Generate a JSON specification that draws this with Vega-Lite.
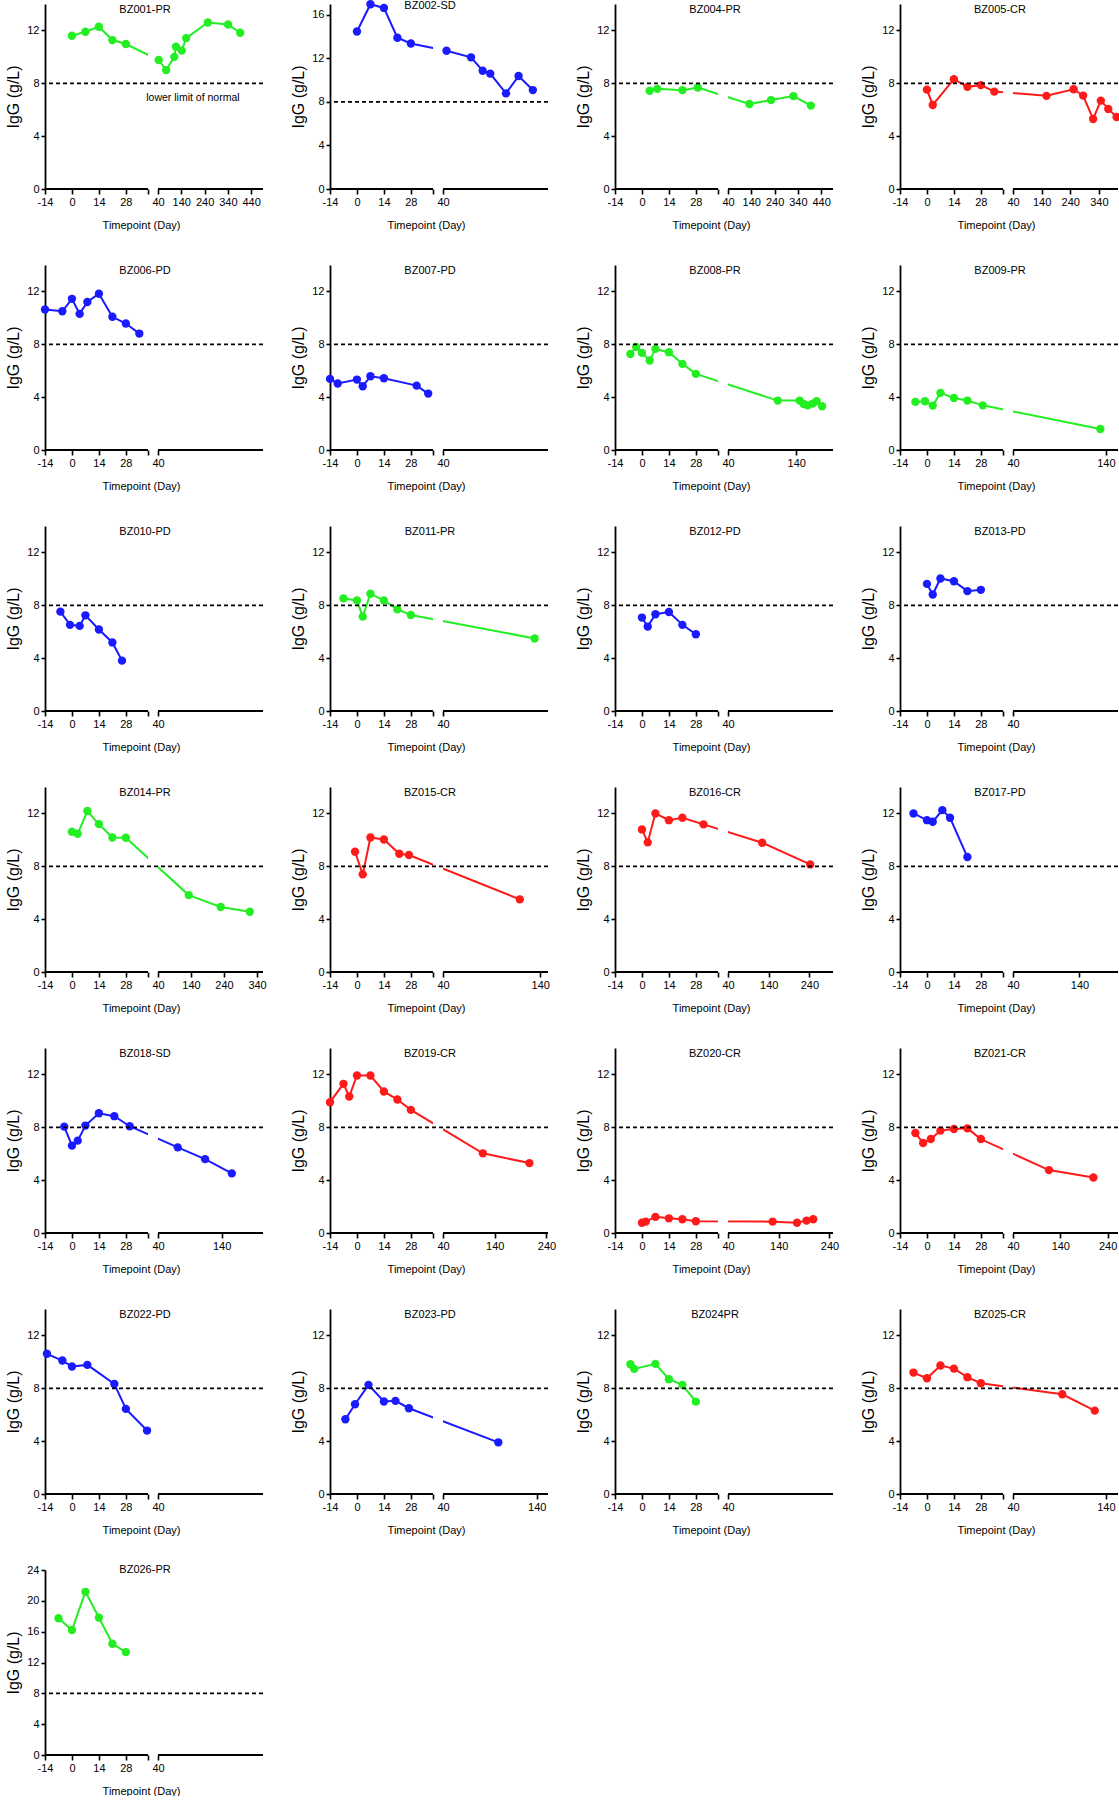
{
"$schema":"https://vega.github.io/schema/vega-lite/v6.json",
"padding":{"left":5,"top":0,"right":0,"bottom":0},
"columns":4,
"spacing":{"row":76,"column":67},
"bounds":"flush",
"resolve":{"scale":{"x":"independent","y":"independent"}},
"datasets":{"igg":[
{"id":"BZ001","resp":"PR","day":0,"igg":11.6},{"id":"BZ001","resp":"PR","day":7,"igg":11.9},{"id":"BZ001","resp":"PR","day":14,"igg":12.28},{"id":"BZ001","resp":"PR","day":21,"igg":11.27},{"id":"BZ001","resp":"PR","day":28,"igg":10.97},{"id":"BZ001","resp":"PR","day":43,"igg":9.76},{"id":"BZ001","resp":"PR","day":75,"igg":9.0},{"id":"BZ001","resp":"PR","day":110,"igg":10.0},{"id":"BZ001","resp":"PR","day":117,"igg":10.77},{"id":"BZ001","resp":"PR","day":142,"igg":10.47},{"id":"BZ001","resp":"PR","day":161,"igg":11.42},{"id":"BZ001","resp":"PR","day":254,"igg":12.6},{"id":"BZ001","resp":"PR","day":341,"igg":12.45},{"id":"BZ001","resp":"PR","day":393,"igg":11.82},
{"id":"BZ002","resp":"SD","day":0,"igg":14.47},{"id":"BZ002","resp":"SD","day":7,"igg":16.98},{"id":"BZ002","resp":"SD","day":14,"igg":16.64},{"id":"BZ002","resp":"SD","day":21,"igg":13.9},{"id":"BZ002","resp":"SD","day":28,"igg":13.37},{"id":"BZ002","resp":"SD","day":52,"igg":12.7},{"id":"BZ002","resp":"SD","day":136,"igg":12.1},{"id":"BZ002","resp":"SD","day":176,"igg":10.87},{"id":"BZ002","resp":"SD","day":202,"igg":10.6},{"id":"BZ002","resp":"SD","day":256,"igg":8.79},{"id":"BZ002","resp":"SD","day":299,"igg":10.38},{"id":"BZ002","resp":"SD","day":348,"igg":9.09},
{"id":"BZ004","resp":"PR","day":4,"igg":7.43},{"id":"BZ004","resp":"PR","day":8,"igg":7.58},{"id":"BZ004","resp":"PR","day":21,"igg":7.48},{"id":"BZ004","resp":"PR","day":29,"igg":7.68},{"id":"BZ004","resp":"PR","day":132,"igg":6.43},{"id":"BZ004","resp":"PR","day":225,"igg":6.73},{"id":"BZ004","resp":"PR","day":321,"igg":7.03},{"id":"BZ004","resp":"PR","day":396,"igg":6.31},
{"id":"BZ005","resp":"CR","day":0,"igg":7.52},{"id":"BZ005","resp":"CR","day":3,"igg":6.36},{"id":"BZ005","resp":"CR","day":14,"igg":8.31},{"id":"BZ005","resp":"CR","day":21,"igg":7.73},{"id":"BZ005","resp":"CR","day":28,"igg":7.86},{"id":"BZ005","resp":"CR","day":35,"igg":7.37},{"id":"BZ005","resp":"CR","day":157,"igg":7.05},{"id":"BZ005","resp":"CR","day":252,"igg":7.55},{"id":"BZ005","resp":"CR","day":285,"igg":7.07},{"id":"BZ005","resp":"CR","day":320,"igg":5.3},{"id":"BZ005","resp":"CR","day":347,"igg":6.69},{"id":"BZ005","resp":"CR","day":373,"igg":6.06},{"id":"BZ005","resp":"CR","day":402,"igg":5.45},
{"id":"BZ006","resp":"PD","day":-14,"igg":10.63},{"id":"BZ006","resp":"PD","day":-5,"igg":10.5},{"id":"BZ006","resp":"PD","day":0,"igg":11.44},{"id":"BZ006","resp":"PD","day":4,"igg":10.3},{"id":"BZ006","resp":"PD","day":8,"igg":11.2},{"id":"BZ006","resp":"PD","day":14,"igg":11.82},{"id":"BZ006","resp":"PD","day":21,"igg":10.08},{"id":"BZ006","resp":"PD","day":28,"igg":9.57},{"id":"BZ006","resp":"PD","day":35,"igg":8.81},
{"id":"BZ007","resp":"PD","day":-14,"igg":5.38},{"id":"BZ007","resp":"PD","day":-10,"igg":5.03},{"id":"BZ007","resp":"PD","day":0,"igg":5.33},{"id":"BZ007","resp":"PD","day":3,"igg":4.82},{"id":"BZ007","resp":"PD","day":7,"igg":5.58},{"id":"BZ007","resp":"PD","day":14,"igg":5.43},{"id":"BZ007","resp":"PD","day":31,"igg":4.87},{"id":"BZ007","resp":"PD","day":37,"igg":4.27},
{"id":"BZ008","resp":"PR","day":-6,"igg":7.27},{"id":"BZ008","resp":"PR","day":-3,"igg":7.8},{"id":"BZ008","resp":"PR","day":0,"igg":7.35},{"id":"BZ008","resp":"PR","day":4,"igg":6.77},{"id":"BZ008","resp":"PR","day":7,"igg":7.65},{"id":"BZ008","resp":"PR","day":14,"igg":7.4},{"id":"BZ008","resp":"PR","day":21,"igg":6.52},{"id":"BZ008","resp":"PR","day":28,"igg":5.76},{"id":"BZ008","resp":"PR","day":113,"igg":3.74},{"id":"BZ008","resp":"PR","day":145,"igg":3.74},{"id":"BZ008","resp":"PR","day":151,"igg":3.48},{"id":"BZ008","resp":"PR","day":157,"igg":3.38},{"id":"BZ008","resp":"PR","day":164,"igg":3.51},{"id":"BZ008","resp":"PR","day":170,"igg":3.69},{"id":"BZ008","resp":"PR","day":178,"igg":3.31},
{"id":"BZ009","resp":"PR","day":-6,"igg":3.64},{"id":"BZ009","resp":"PR","day":-1,"igg":3.69},{"id":"BZ009","resp":"PR","day":3,"igg":3.36},{"id":"BZ009","resp":"PR","day":7,"igg":4.32},{"id":"BZ009","resp":"PR","day":14,"igg":3.94},{"id":"BZ009","resp":"PR","day":21,"igg":3.74},{"id":"BZ009","resp":"PR","day":29,"igg":3.38},{"id":"BZ009","resp":"PR","day":134,"igg":1.59},
{"id":"BZ010","resp":"PD","day":-6,"igg":7.52},{"id":"BZ010","resp":"PD","day":-1,"igg":6.52},{"id":"BZ010","resp":"PD","day":4,"igg":6.44},{"id":"BZ010","resp":"PD","day":7,"igg":7.24},{"id":"BZ010","resp":"PD","day":14,"igg":6.17},{"id":"BZ010","resp":"PD","day":21,"igg":5.19},{"id":"BZ010","resp":"PD","day":26,"igg":3.81},
{"id":"BZ011","resp":"PR","day":-7,"igg":8.52},{"id":"BZ011","resp":"PR","day":0,"igg":8.37},{"id":"BZ011","resp":"PR","day":3,"igg":7.14},{"id":"BZ011","resp":"PR","day":7,"igg":8.87},{"id":"BZ011","resp":"PR","day":14,"igg":8.37},{"id":"BZ011","resp":"PR","day":21,"igg":7.69},{"id":"BZ011","resp":"PR","day":28,"igg":7.27},{"id":"BZ011","resp":"PR","day":136,"igg":5.49},
{"id":"BZ012","resp":"PD","day":0,"igg":7.07},{"id":"BZ012","resp":"PD","day":3,"igg":6.39},{"id":"BZ012","resp":"PD","day":7,"igg":7.32},{"id":"BZ012","resp":"PD","day":14,"igg":7.49},{"id":"BZ012","resp":"PD","day":21,"igg":6.52},{"id":"BZ012","resp":"PD","day":28,"igg":5.81},
{"id":"BZ013","resp":"PD","day":0,"igg":9.62},{"id":"BZ013","resp":"PD","day":3,"igg":8.82},{"id":"BZ013","resp":"PD","day":7,"igg":10.03},{"id":"BZ013","resp":"PD","day":14,"igg":9.82},{"id":"BZ013","resp":"PD","day":21,"igg":9.07},{"id":"BZ013","resp":"PD","day":28,"igg":9.17},
{"id":"BZ014","resp":"PR","day":0,"igg":10.61},{"id":"BZ014","resp":"PR","day":3,"igg":10.46},{"id":"BZ014","resp":"PR","day":8,"igg":12.18},{"id":"BZ014","resp":"PR","day":14,"igg":11.19},{"id":"BZ014","resp":"PR","day":21,"igg":10.18},{"id":"BZ014","resp":"PR","day":28,"igg":10.16},{"id":"BZ014","resp":"PR","day":133,"igg":5.82},{"id":"BZ014","resp":"PR","day":230,"igg":4.92},{"id":"BZ014","resp":"PR","day":318,"igg":4.56},
{"id":"BZ015","resp":"CR","day":-1,"igg":9.1},{"id":"BZ015","resp":"CR","day":3,"igg":7.39},{"id":"BZ015","resp":"CR","day":7,"igg":10.18},{"id":"BZ015","resp":"CR","day":14,"igg":10.03},{"id":"BZ015","resp":"CR","day":22,"igg":8.95},{"id":"BZ015","resp":"CR","day":27,"igg":8.85},{"id":"BZ015","resp":"CR","day":119,"igg":5.5},
{"id":"BZ016","resp":"CR","day":0,"igg":10.79},{"id":"BZ016","resp":"CR","day":3,"igg":9.81},{"id":"BZ016","resp":"CR","day":7,"igg":12.0},{"id":"BZ016","resp":"CR","day":14,"igg":11.49},{"id":"BZ016","resp":"CR","day":21,"igg":11.67},{"id":"BZ016","resp":"CR","day":32,"igg":11.17},{"id":"BZ016","resp":"CR","day":124,"igg":9.78},{"id":"BZ016","resp":"CR","day":242,"igg":8.14},
{"id":"BZ017","resp":"PD","day":-7,"igg":12.0},{"id":"BZ017","resp":"PD","day":0,"igg":11.49},{"id":"BZ017","resp":"PD","day":3,"igg":11.37},{"id":"BZ017","resp":"PD","day":8,"igg":12.25},{"id":"BZ017","resp":"PD","day":12,"igg":11.67},{"id":"BZ017","resp":"PD","day":21,"igg":8.7},
{"id":"BZ018","resp":"SD","day":-4,"igg":8.05},{"id":"BZ018","resp":"SD","day":0,"igg":6.61},{"id":"BZ018","resp":"SD","day":3,"igg":6.99},{"id":"BZ018","resp":"SD","day":7,"igg":8.13},{"id":"BZ018","resp":"SD","day":14,"igg":9.06},{"id":"BZ018","resp":"SD","day":22,"igg":8.84},{"id":"BZ018","resp":"SD","day":30,"igg":8.08},{"id":"BZ018","resp":"SD","day":71,"igg":6.48},{"id":"BZ018","resp":"SD","day":114,"igg":5.59},{"id":"BZ018","resp":"SD","day":156,"igg":4.51},
{"id":"BZ019","resp":"CR","day":-14,"igg":9.9},{"id":"BZ019","resp":"CR","day":-7,"igg":11.29},{"id":"BZ019","resp":"CR","day":-4,"igg":10.33},{"id":"BZ019","resp":"CR","day":0,"igg":11.92},{"id":"BZ019","resp":"CR","day":7,"igg":11.92},{"id":"BZ019","resp":"CR","day":14,"igg":10.71},{"id":"BZ019","resp":"CR","day":21,"igg":10.1},{"id":"BZ019","resp":"CR","day":28,"igg":9.32},{"id":"BZ019","resp":"CR","day":117,"igg":6.03},{"id":"BZ019","resp":"CR","day":207,"igg":5.29},
{"id":"BZ020","resp":"CR","day":0,"igg":0.78},{"id":"BZ020","resp":"CR","day":2,"igg":0.86},{"id":"BZ020","resp":"CR","day":7,"igg":1.22},{"id":"BZ020","resp":"CR","day":14,"igg":1.11},{"id":"BZ020","resp":"CR","day":21,"igg":1.04},{"id":"BZ020","resp":"CR","day":28,"igg":0.89},{"id":"BZ020","resp":"CR","day":128,"igg":0.86},{"id":"BZ020","resp":"CR","day":176,"igg":0.78},{"id":"BZ020","resp":"CR","day":195,"igg":0.94},{"id":"BZ020","resp":"CR","day":208,"igg":1.04},
{"id":"BZ021","resp":"CR","day":-6,"igg":7.57},{"id":"BZ021","resp":"CR","day":-2,"igg":6.81},{"id":"BZ021","resp":"CR","day":2,"igg":7.11},{"id":"BZ021","resp":"CR","day":7,"igg":7.75},{"id":"BZ021","resp":"CR","day":14,"igg":7.87},{"id":"BZ021","resp":"CR","day":21,"igg":7.92},{"id":"BZ021","resp":"CR","day":28,"igg":7.11},{"id":"BZ021","resp":"CR","day":116,"igg":4.76},{"id":"BZ021","resp":"CR","day":210,"igg":4.2},
{"id":"BZ022","resp":"PD","day":-13,"igg":10.61},{"id":"BZ022","resp":"PD","day":-5,"igg":10.1},{"id":"BZ022","resp":"PD","day":0,"igg":9.65},{"id":"BZ022","resp":"PD","day":8,"igg":9.77},{"id":"BZ022","resp":"PD","day":22,"igg":8.33},{"id":"BZ022","resp":"PD","day":28,"igg":6.44},{"id":"BZ022","resp":"PD","day":39,"igg":4.8},
{"id":"BZ023","resp":"PD","day":-6,"igg":5.66},{"id":"BZ023","resp":"PD","day":-1,"igg":6.79},{"id":"BZ023","resp":"PD","day":6,"igg":8.26},{"id":"BZ023","resp":"PD","day":14,"igg":7.0},{"id":"BZ023","resp":"PD","day":20,"igg":7.05},{"id":"BZ023","resp":"PD","day":27,"igg":6.49},{"id":"BZ023","resp":"PD","day":99,"igg":3.91},
{"id":"BZ024","resp":"PR","day":-6,"igg":9.82},{"id":"BZ024","resp":"PR","day":-4,"igg":9.47},{"id":"BZ024","resp":"PR","day":7,"igg":9.85},{"id":"BZ024","resp":"PR","day":14,"igg":8.69},{"id":"BZ024","resp":"PR","day":21,"igg":8.26},{"id":"BZ024","resp":"PR","day":28,"igg":6.99},
{"id":"BZ025","resp":"CR","day":-7,"igg":9.19},{"id":"BZ025","resp":"CR","day":0,"igg":8.76},{"id":"BZ025","resp":"CR","day":7,"igg":9.72},{"id":"BZ025","resp":"CR","day":14,"igg":9.49},{"id":"BZ025","resp":"CR","day":21,"igg":8.84},{"id":"BZ025","resp":"CR","day":28,"igg":8.38},{"id":"BZ025","resp":"CR","day":93,"igg":7.55},{"id":"BZ025","resp":"CR","day":128,"igg":6.31},
{"id":"BZ026","resp":"PR","day":-7,"igg":17.74},{"id":"BZ026","resp":"PR","day":0,"igg":16.22},{"id":"BZ026","resp":"PR","day":7,"igg":21.17},{"id":"BZ026","resp":"PR","day":14,"igg":17.83},{"id":"BZ026","resp":"PR","day":21,"igg":14.43},{"id":"BZ026","resp":"PR","day":28,"igg":13.35}
]},
"concat":[
{"title":{"text":"BZ001-PR"},"width":218,"height":185,"layer":[
{"data":{"name":"igg"},"transform":[{"filter":{"field":"id","equal":"BZ001"}}],"mark":{"type":"line","strokeWidth":2},"encoding":{"x":{"field":"day","type":"quantitative","scale":{"domain":[-14,39.5,40,491],"range":[0,103,113,218],"nice":false,"zero":false},"axis":{"values":[-14,0,14,28,39.5,40,140,240,340,440],"tickCount":30,"title":"Timepoint (Day)","labelOverlap":false}},"y":{"field":"igg","type":"quantitative","scale":{"domain":[0,14],"nice":false},"axis":{"values":[0,4,8,12],"tickCount":30,"title":"IgG (g/L)","labelOverlap":false}},"color":{"field":"resp","type":"nominal","scale":{"domain":["PR","CR","PD","SD"],"range":["#22ee22","#ff1a1a","#1a1aff","#1a1aff"]},"legend":null}}},
{"data":{"values":[{}]},"mark":{"type":"rect","color":"white"},"encoding":{"x":{"datum":39.5},"x2":{"datum":40}}},
{"data":{"name":"igg"},"transform":[{"filter":{"field":"id","equal":"BZ001"}}],"mark":{"type":"circle","size":70,"opacity":1},"encoding":{"x":{"field":"day","type":"quantitative"},"y":{"field":"igg","type":"quantitative"},"color":{"field":"resp","type":"nominal"}}},
{"data":{"values":[{}]},"mark":{"type":"rule","strokeDash":[4,3],"strokeWidth":1.8,"color":"black"},"encoding":{"y":{"datum":8}}},
{"data":{"values":[{}]},"mark":{"type":"rule","strokeWidth":1.8,"color":"black"},"encoding":{"x":{"datum":-14},"x2":{"datum":39.5},"y":{"datum":0}}},
{"data":{"values":[{}]},"mark":{"type":"rule","strokeWidth":1.8,"color":"black"},"encoding":{"x":{"datum":40},"x2":{"datum":491},"y":{"datum":0}}},
{"data":{"values":[{}]},"mark":{"type":"text","text":"lower limit of normal","font":"Liberation Sans","fontSize":10.5,"color":"black"},"encoding":{"x":{"datum":190},"y":{"datum":6.87}}}
]},
{"title":{"text":"BZ002-SD"},"width":218,"height":185,"layer":[
{"data":{"name":"igg"},"transform":[{"filter":{"field":"id","equal":"BZ002"}}],"mark":{"type":"line","strokeWidth":2},"encoding":{"x":{"field":"day","type":"quantitative","scale":{"domain":[-14,39.5,40,400],"range":[0,103,113,218],"nice":false,"zero":false},"axis":{"values":[-14,0,14,28,39.5,40],"tickCount":30,"title":"Timepoint (Day)","labelOverlap":false}},"y":{"field":"igg","type":"quantitative","scale":{"domain":[0,17],"nice":false},"axis":{"values":[0,4,8,12,16],"tickCount":30,"title":"IgG (g/L)","labelOverlap":false}},"color":{"field":"resp","type":"nominal","scale":{"domain":["PR","CR","PD","SD"],"range":["#22ee22","#ff1a1a","#1a1aff","#1a1aff"]},"legend":null}}},
{"data":{"values":[{}]},"mark":{"type":"rect","color":"white"},"encoding":{"x":{"datum":39.5},"x2":{"datum":40}}},
{"data":{"name":"igg"},"transform":[{"filter":{"field":"id","equal":"BZ002"}}],"mark":{"type":"circle","size":70,"opacity":1},"encoding":{"x":{"field":"day","type":"quantitative"},"y":{"field":"igg","type":"quantitative"},"color":{"field":"resp","type":"nominal"}}},
{"data":{"values":[{}]},"mark":{"type":"rule","strokeDash":[4,3],"strokeWidth":1.8,"color":"black"},"encoding":{"y":{"datum":8}}},
{"data":{"values":[{}]},"mark":{"type":"rule","strokeWidth":1.8,"color":"black"},"encoding":{"x":{"datum":-14},"x2":{"datum":39.5},"y":{"datum":0}}},
{"data":{"values":[{}]},"mark":{"type":"rule","strokeWidth":1.8,"color":"black"},"encoding":{"x":{"datum":40},"x2":{"datum":400},"y":{"datum":0}}}
]},
{"title":{"text":"BZ004-PR"},"width":218,"height":185,"layer":[
{"data":{"name":"igg"},"transform":[{"filter":{"field":"id","equal":"BZ004"}}],"mark":{"type":"line","strokeWidth":2},"encoding":{"x":{"field":"day","type":"quantitative","scale":{"domain":[-14,39.5,40,491],"range":[0,103,113,218],"nice":false,"zero":false},"axis":{"values":[-14,0,14,28,39.5,40,140,240,340,440],"tickCount":30,"title":"Timepoint (Day)","labelOverlap":false}},"y":{"field":"igg","type":"quantitative","scale":{"domain":[0,14],"nice":false},"axis":{"values":[0,4,8,12],"tickCount":30,"title":"IgG (g/L)","labelOverlap":false}},"color":{"field":"resp","type":"nominal","scale":{"domain":["PR","CR","PD","SD"],"range":["#22ee22","#ff1a1a","#1a1aff","#1a1aff"]},"legend":null}}},
{"data":{"values":[{}]},"mark":{"type":"rect","color":"white"},"encoding":{"x":{"datum":39.5},"x2":{"datum":40}}},
{"data":{"name":"igg"},"transform":[{"filter":{"field":"id","equal":"BZ004"}}],"mark":{"type":"circle","size":70,"opacity":1},"encoding":{"x":{"field":"day","type":"quantitative"},"y":{"field":"igg","type":"quantitative"},"color":{"field":"resp","type":"nominal"}}},
{"data":{"values":[{}]},"mark":{"type":"rule","strokeDash":[4,3],"strokeWidth":1.8,"color":"black"},"encoding":{"y":{"datum":8}}},
{"data":{"values":[{}]},"mark":{"type":"rule","strokeWidth":1.8,"color":"black"},"encoding":{"x":{"datum":-14},"x2":{"datum":39.5},"y":{"datum":0}}},
{"data":{"values":[{}]},"mark":{"type":"rule","strokeWidth":1.8,"color":"black"},"encoding":{"x":{"datum":40},"x2":{"datum":491},"y":{"datum":0}}}
]},
{"title":{"text":"BZ005-CR"},"width":218,"height":185,"layer":[
{"data":{"name":"igg"},"transform":[{"filter":{"field":"id","equal":"BZ005"}}],"mark":{"type":"line","strokeWidth":2},"encoding":{"x":{"field":"day","type":"quantitative","scale":{"domain":[-14,39.5,40,407],"range":[0,103,113,218],"nice":false,"zero":false},"axis":{"values":[-14,0,14,28,39.5,40,140,240,340],"tickCount":30,"title":"Timepoint (Day)","labelOverlap":false}},"y":{"field":"igg","type":"quantitative","scale":{"domain":[0,14],"nice":false},"axis":{"values":[0,4,8,12],"tickCount":30,"title":"IgG (g/L)","labelOverlap":false}},"color":{"field":"resp","type":"nominal","scale":{"domain":["PR","CR","PD","SD"],"range":["#22ee22","#ff1a1a","#1a1aff","#1a1aff"]},"legend":null}}},
{"data":{"values":[{}]},"mark":{"type":"rect","color":"white"},"encoding":{"x":{"datum":39.5},"x2":{"datum":40}}},
{"data":{"name":"igg"},"transform":[{"filter":{"field":"id","equal":"BZ005"}}],"mark":{"type":"circle","size":70,"opacity":1},"encoding":{"x":{"field":"day","type":"quantitative"},"y":{"field":"igg","type":"quantitative"},"color":{"field":"resp","type":"nominal"}}},
{"data":{"values":[{}]},"mark":{"type":"rule","strokeDash":[4,3],"strokeWidth":1.8,"color":"black"},"encoding":{"y":{"datum":8}}},
{"data":{"values":[{}]},"mark":{"type":"rule","strokeWidth":1.8,"color":"black"},"encoding":{"x":{"datum":-14},"x2":{"datum":39.5},"y":{"datum":0}}},
{"data":{"values":[{}]},"mark":{"type":"rule","strokeWidth":1.8,"color":"black"},"encoding":{"x":{"datum":40},"x2":{"datum":407},"y":{"datum":0}}}
]},
{"title":{"text":"BZ006-PD"},"width":218,"height":185,"layer":[
{"data":{"name":"igg"},"transform":[{"filter":{"field":"id","equal":"BZ006"}}],"mark":{"type":"line","strokeWidth":2},"encoding":{"x":{"field":"day","type":"quantitative","scale":{"domain":[-14,39.5,40,150],"range":[0,103,113,218],"nice":false,"zero":false},"axis":{"values":[-14,0,14,28,39.5,40],"tickCount":30,"title":"Timepoint (Day)","labelOverlap":false}},"y":{"field":"igg","type":"quantitative","scale":{"domain":[0,14],"nice":false},"axis":{"values":[0,4,8,12],"tickCount":30,"title":"IgG (g/L)","labelOverlap":false}},"color":{"field":"resp","type":"nominal","scale":{"domain":["PR","CR","PD","SD"],"range":["#22ee22","#ff1a1a","#1a1aff","#1a1aff"]},"legend":null}}},
{"data":{"values":[{}]},"mark":{"type":"rect","color":"white"},"encoding":{"x":{"datum":39.5},"x2":{"datum":40}}},
{"data":{"name":"igg"},"transform":[{"filter":{"field":"id","equal":"BZ006"}}],"mark":{"type":"circle","size":70,"opacity":1},"encoding":{"x":{"field":"day","type":"quantitative"},"y":{"field":"igg","type":"quantitative"},"color":{"field":"resp","type":"nominal"}}},
{"data":{"values":[{}]},"mark":{"type":"rule","strokeDash":[4,3],"strokeWidth":1.8,"color":"black"},"encoding":{"y":{"datum":8}}},
{"data":{"values":[{}]},"mark":{"type":"rule","strokeWidth":1.8,"color":"black"},"encoding":{"x":{"datum":-14},"x2":{"datum":39.5},"y":{"datum":0}}},
{"data":{"values":[{}]},"mark":{"type":"rule","strokeWidth":1.8,"color":"black"},"encoding":{"x":{"datum":40},"x2":{"datum":150},"y":{"datum":0}}}
]},
{"title":{"text":"BZ007-PD"},"width":218,"height":185,"layer":[
{"data":{"name":"igg"},"transform":[{"filter":{"field":"id","equal":"BZ007"}}],"mark":{"type":"line","strokeWidth":2},"encoding":{"x":{"field":"day","type":"quantitative","scale":{"domain":[-14,39.5,40,150],"range":[0,103,113,218],"nice":false,"zero":false},"axis":{"values":[-14,0,14,28,39.5,40],"tickCount":30,"title":"Timepoint (Day)","labelOverlap":false}},"y":{"field":"igg","type":"quantitative","scale":{"domain":[0,14],"nice":false},"axis":{"values":[0,4,8,12],"tickCount":30,"title":"IgG (g/L)","labelOverlap":false}},"color":{"field":"resp","type":"nominal","scale":{"domain":["PR","CR","PD","SD"],"range":["#22ee22","#ff1a1a","#1a1aff","#1a1aff"]},"legend":null}}},
{"data":{"values":[{}]},"mark":{"type":"rect","color":"white"},"encoding":{"x":{"datum":39.5},"x2":{"datum":40}}},
{"data":{"name":"igg"},"transform":[{"filter":{"field":"id","equal":"BZ007"}}],"mark":{"type":"circle","size":70,"opacity":1},"encoding":{"x":{"field":"day","type":"quantitative"},"y":{"field":"igg","type":"quantitative"},"color":{"field":"resp","type":"nominal"}}},
{"data":{"values":[{}]},"mark":{"type":"rule","strokeDash":[4,3],"strokeWidth":1.8,"color":"black"},"encoding":{"y":{"datum":8}}},
{"data":{"values":[{}]},"mark":{"type":"rule","strokeWidth":1.8,"color":"black"},"encoding":{"x":{"datum":-14},"x2":{"datum":39.5},"y":{"datum":0}}},
{"data":{"values":[{}]},"mark":{"type":"rule","strokeWidth":1.8,"color":"black"},"encoding":{"x":{"datum":40},"x2":{"datum":150},"y":{"datum":0}}}
]},
{"title":{"text":"BZ008-PR"},"width":218,"height":185,"layer":[
{"data":{"name":"igg"},"transform":[{"filter":{"field":"id","equal":"BZ008"}}],"mark":{"type":"line","strokeWidth":2},"encoding":{"x":{"field":"day","type":"quantitative","scale":{"domain":[-14,39.5,40,194],"range":[0,103,113,218],"nice":false,"zero":false},"axis":{"values":[-14,0,14,28,39.5,40,140],"tickCount":30,"title":"Timepoint (Day)","labelOverlap":false}},"y":{"field":"igg","type":"quantitative","scale":{"domain":[0,14],"nice":false},"axis":{"values":[0,4,8,12],"tickCount":30,"title":"IgG (g/L)","labelOverlap":false}},"color":{"field":"resp","type":"nominal","scale":{"domain":["PR","CR","PD","SD"],"range":["#22ee22","#ff1a1a","#1a1aff","#1a1aff"]},"legend":null}}},
{"data":{"values":[{}]},"mark":{"type":"rect","color":"white"},"encoding":{"x":{"datum":39.5},"x2":{"datum":40}}},
{"data":{"name":"igg"},"transform":[{"filter":{"field":"id","equal":"BZ008"}}],"mark":{"type":"circle","size":70,"opacity":1},"encoding":{"x":{"field":"day","type":"quantitative"},"y":{"field":"igg","type":"quantitative"},"color":{"field":"resp","type":"nominal"}}},
{"data":{"values":[{}]},"mark":{"type":"rule","strokeDash":[4,3],"strokeWidth":1.8,"color":"black"},"encoding":{"y":{"datum":8}}},
{"data":{"values":[{}]},"mark":{"type":"rule","strokeWidth":1.8,"color":"black"},"encoding":{"x":{"datum":-14},"x2":{"datum":39.5},"y":{"datum":0}}},
{"data":{"values":[{}]},"mark":{"type":"rule","strokeWidth":1.8,"color":"black"},"encoding":{"x":{"datum":40},"x2":{"datum":194},"y":{"datum":0}}}
]},
{"title":{"text":"BZ009-PR"},"width":218,"height":185,"layer":[
{"data":{"name":"igg"},"transform":[{"filter":{"field":"id","equal":"BZ009"}}],"mark":{"type":"line","strokeWidth":2},"encoding":{"x":{"field":"day","type":"quantitative","scale":{"domain":[-14,39.5,40,153],"range":[0,103,113,218],"nice":false,"zero":false},"axis":{"values":[-14,0,14,28,39.5,40,140],"tickCount":30,"title":"Timepoint (Day)","labelOverlap":false}},"y":{"field":"igg","type":"quantitative","scale":{"domain":[0,14],"nice":false},"axis":{"values":[0,4,8,12],"tickCount":30,"title":"IgG (g/L)","labelOverlap":false}},"color":{"field":"resp","type":"nominal","scale":{"domain":["PR","CR","PD","SD"],"range":["#22ee22","#ff1a1a","#1a1aff","#1a1aff"]},"legend":null}}},
{"data":{"values":[{}]},"mark":{"type":"rect","color":"white"},"encoding":{"x":{"datum":39.5},"x2":{"datum":40}}},
{"data":{"name":"igg"},"transform":[{"filter":{"field":"id","equal":"BZ009"}}],"mark":{"type":"circle","size":70,"opacity":1},"encoding":{"x":{"field":"day","type":"quantitative"},"y":{"field":"igg","type":"quantitative"},"color":{"field":"resp","type":"nominal"}}},
{"data":{"values":[{}]},"mark":{"type":"rule","strokeDash":[4,3],"strokeWidth":1.8,"color":"black"},"encoding":{"y":{"datum":8}}},
{"data":{"values":[{}]},"mark":{"type":"rule","strokeWidth":1.8,"color":"black"},"encoding":{"x":{"datum":-14},"x2":{"datum":39.5},"y":{"datum":0}}},
{"data":{"values":[{}]},"mark":{"type":"rule","strokeWidth":1.8,"color":"black"},"encoding":{"x":{"datum":40},"x2":{"datum":153},"y":{"datum":0}}}
]},
{"title":{"text":"BZ010-PD"},"width":218,"height":185,"layer":[
{"data":{"name":"igg"},"transform":[{"filter":{"field":"id","equal":"BZ010"}}],"mark":{"type":"line","strokeWidth":2},"encoding":{"x":{"field":"day","type":"quantitative","scale":{"domain":[-14,39.5,40,150],"range":[0,103,113,218],"nice":false,"zero":false},"axis":{"values":[-14,0,14,28,39.5,40],"tickCount":30,"title":"Timepoint (Day)","labelOverlap":false}},"y":{"field":"igg","type":"quantitative","scale":{"domain":[0,14],"nice":false},"axis":{"values":[0,4,8,12],"tickCount":30,"title":"IgG (g/L)","labelOverlap":false}},"color":{"field":"resp","type":"nominal","scale":{"domain":["PR","CR","PD","SD"],"range":["#22ee22","#ff1a1a","#1a1aff","#1a1aff"]},"legend":null}}},
{"data":{"values":[{}]},"mark":{"type":"rect","color":"white"},"encoding":{"x":{"datum":39.5},"x2":{"datum":40}}},
{"data":{"name":"igg"},"transform":[{"filter":{"field":"id","equal":"BZ010"}}],"mark":{"type":"circle","size":70,"opacity":1},"encoding":{"x":{"field":"day","type":"quantitative"},"y":{"field":"igg","type":"quantitative"},"color":{"field":"resp","type":"nominal"}}},
{"data":{"values":[{}]},"mark":{"type":"rule","strokeDash":[4,3],"strokeWidth":1.8,"color":"black"},"encoding":{"y":{"datum":8}}},
{"data":{"values":[{}]},"mark":{"type":"rule","strokeWidth":1.8,"color":"black"},"encoding":{"x":{"datum":-14},"x2":{"datum":39.5},"y":{"datum":0}}},
{"data":{"values":[{}]},"mark":{"type":"rule","strokeWidth":1.8,"color":"black"},"encoding":{"x":{"datum":40},"x2":{"datum":150},"y":{"datum":0}}}
]},
{"title":{"text":"BZ011-PR"},"width":218,"height":185,"layer":[
{"data":{"name":"igg"},"transform":[{"filter":{"field":"id","equal":"BZ011"}}],"mark":{"type":"line","strokeWidth":2},"encoding":{"x":{"field":"day","type":"quantitative","scale":{"domain":[-14,39.5,40,150],"range":[0,103,113,218],"nice":false,"zero":false},"axis":{"values":[-14,0,14,28,39.5,40],"tickCount":30,"title":"Timepoint (Day)","labelOverlap":false}},"y":{"field":"igg","type":"quantitative","scale":{"domain":[0,14],"nice":false},"axis":{"values":[0,4,8,12],"tickCount":30,"title":"IgG (g/L)","labelOverlap":false}},"color":{"field":"resp","type":"nominal","scale":{"domain":["PR","CR","PD","SD"],"range":["#22ee22","#ff1a1a","#1a1aff","#1a1aff"]},"legend":null}}},
{"data":{"values":[{}]},"mark":{"type":"rect","color":"white"},"encoding":{"x":{"datum":39.5},"x2":{"datum":40}}},
{"data":{"name":"igg"},"transform":[{"filter":{"field":"id","equal":"BZ011"}}],"mark":{"type":"circle","size":70,"opacity":1},"encoding":{"x":{"field":"day","type":"quantitative"},"y":{"field":"igg","type":"quantitative"},"color":{"field":"resp","type":"nominal"}}},
{"data":{"values":[{}]},"mark":{"type":"rule","strokeDash":[4,3],"strokeWidth":1.8,"color":"black"},"encoding":{"y":{"datum":8}}},
{"data":{"values":[{}]},"mark":{"type":"rule","strokeWidth":1.8,"color":"black"},"encoding":{"x":{"datum":-14},"x2":{"datum":39.5},"y":{"datum":0}}},
{"data":{"values":[{}]},"mark":{"type":"rule","strokeWidth":1.8,"color":"black"},"encoding":{"x":{"datum":40},"x2":{"datum":150},"y":{"datum":0}}}
]},
{"title":{"text":"BZ012-PD"},"width":218,"height":185,"layer":[
{"data":{"name":"igg"},"transform":[{"filter":{"field":"id","equal":"BZ012"}}],"mark":{"type":"line","strokeWidth":2},"encoding":{"x":{"field":"day","type":"quantitative","scale":{"domain":[-14,39.5,40,150],"range":[0,103,113,218],"nice":false,"zero":false},"axis":{"values":[-14,0,14,28,39.5,40],"tickCount":30,"title":"Timepoint (Day)","labelOverlap":false}},"y":{"field":"igg","type":"quantitative","scale":{"domain":[0,14],"nice":false},"axis":{"values":[0,4,8,12],"tickCount":30,"title":"IgG (g/L)","labelOverlap":false}},"color":{"field":"resp","type":"nominal","scale":{"domain":["PR","CR","PD","SD"],"range":["#22ee22","#ff1a1a","#1a1aff","#1a1aff"]},"legend":null}}},
{"data":{"values":[{}]},"mark":{"type":"rect","color":"white"},"encoding":{"x":{"datum":39.5},"x2":{"datum":40}}},
{"data":{"name":"igg"},"transform":[{"filter":{"field":"id","equal":"BZ012"}}],"mark":{"type":"circle","size":70,"opacity":1},"encoding":{"x":{"field":"day","type":"quantitative"},"y":{"field":"igg","type":"quantitative"},"color":{"field":"resp","type":"nominal"}}},
{"data":{"values":[{}]},"mark":{"type":"rule","strokeDash":[4,3],"strokeWidth":1.8,"color":"black"},"encoding":{"y":{"datum":8}}},
{"data":{"values":[{}]},"mark":{"type":"rule","strokeWidth":1.8,"color":"black"},"encoding":{"x":{"datum":-14},"x2":{"datum":39.5},"y":{"datum":0}}},
{"data":{"values":[{}]},"mark":{"type":"rule","strokeWidth":1.8,"color":"black"},"encoding":{"x":{"datum":40},"x2":{"datum":150},"y":{"datum":0}}}
]},
{"title":{"text":"BZ013-PD"},"width":218,"height":185,"layer":[
{"data":{"name":"igg"},"transform":[{"filter":{"field":"id","equal":"BZ013"}}],"mark":{"type":"line","strokeWidth":2},"encoding":{"x":{"field":"day","type":"quantitative","scale":{"domain":[-14,39.5,40,150],"range":[0,103,113,218],"nice":false,"zero":false},"axis":{"values":[-14,0,14,28,39.5,40],"tickCount":30,"title":"Timepoint (Day)","labelOverlap":false}},"y":{"field":"igg","type":"quantitative","scale":{"domain":[0,14],"nice":false},"axis":{"values":[0,4,8,12],"tickCount":30,"title":"IgG (g/L)","labelOverlap":false}},"color":{"field":"resp","type":"nominal","scale":{"domain":["PR","CR","PD","SD"],"range":["#22ee22","#ff1a1a","#1a1aff","#1a1aff"]},"legend":null}}},
{"data":{"values":[{}]},"mark":{"type":"rect","color":"white"},"encoding":{"x":{"datum":39.5},"x2":{"datum":40}}},
{"data":{"name":"igg"},"transform":[{"filter":{"field":"id","equal":"BZ013"}}],"mark":{"type":"circle","size":70,"opacity":1},"encoding":{"x":{"field":"day","type":"quantitative"},"y":{"field":"igg","type":"quantitative"},"color":{"field":"resp","type":"nominal"}}},
{"data":{"values":[{}]},"mark":{"type":"rule","strokeDash":[4,3],"strokeWidth":1.8,"color":"black"},"encoding":{"y":{"datum":8}}},
{"data":{"values":[{}]},"mark":{"type":"rule","strokeWidth":1.8,"color":"black"},"encoding":{"x":{"datum":-14},"x2":{"datum":39.5},"y":{"datum":0}}},
{"data":{"values":[{}]},"mark":{"type":"rule","strokeWidth":1.8,"color":"black"},"encoding":{"x":{"datum":40},"x2":{"datum":150},"y":{"datum":0}}}
]},
{"title":{"text":"BZ014-PR"},"width":218,"height":185,"layer":[
{"data":{"name":"igg"},"transform":[{"filter":{"field":"id","equal":"BZ014"}}],"mark":{"type":"line","strokeWidth":2},"encoding":{"x":{"field":"day","type":"quantitative","scale":{"domain":[-14,39.5,40,358],"range":[0,103,113,218],"nice":false,"zero":false},"axis":{"values":[-14,0,14,28,39.5,40,140,240,340],"tickCount":30,"title":"Timepoint (Day)","labelOverlap":false}},"y":{"field":"igg","type":"quantitative","scale":{"domain":[0,14],"nice":false},"axis":{"values":[0,4,8,12],"tickCount":30,"title":"IgG (g/L)","labelOverlap":false}},"color":{"field":"resp","type":"nominal","scale":{"domain":["PR","CR","PD","SD"],"range":["#22ee22","#ff1a1a","#1a1aff","#1a1aff"]},"legend":null}}},
{"data":{"values":[{}]},"mark":{"type":"rect","color":"white"},"encoding":{"x":{"datum":39.5},"x2":{"datum":40}}},
{"data":{"name":"igg"},"transform":[{"filter":{"field":"id","equal":"BZ014"}}],"mark":{"type":"circle","size":70,"opacity":1},"encoding":{"x":{"field":"day","type":"quantitative"},"y":{"field":"igg","type":"quantitative"},"color":{"field":"resp","type":"nominal"}}},
{"data":{"values":[{}]},"mark":{"type":"rule","strokeDash":[4,3],"strokeWidth":1.8,"color":"black"},"encoding":{"y":{"datum":8}}},
{"data":{"values":[{}]},"mark":{"type":"rule","strokeWidth":1.8,"color":"black"},"encoding":{"x":{"datum":-14},"x2":{"datum":39.5},"y":{"datum":0}}},
{"data":{"values":[{}]},"mark":{"type":"rule","strokeWidth":1.8,"color":"black"},"encoding":{"x":{"datum":40},"x2":{"datum":358},"y":{"datum":0}}}
]},
{"title":{"text":"BZ015-CR"},"width":218,"height":185,"layer":[
{"data":{"name":"igg"},"transform":[{"filter":{"field":"id","equal":"BZ015"}}],"mark":{"type":"line","strokeWidth":2},"encoding":{"x":{"field":"day","type":"quantitative","scale":{"domain":[-14,39.5,40,148],"range":[0,103,113,218],"nice":false,"zero":false},"axis":{"values":[-14,0,14,28,39.5,40,140],"tickCount":30,"title":"Timepoint (Day)","labelOverlap":false}},"y":{"field":"igg","type":"quantitative","scale":{"domain":[0,14],"nice":false},"axis":{"values":[0,4,8,12],"tickCount":30,"title":"IgG (g/L)","labelOverlap":false}},"color":{"field":"resp","type":"nominal","scale":{"domain":["PR","CR","PD","SD"],"range":["#22ee22","#ff1a1a","#1a1aff","#1a1aff"]},"legend":null}}},
{"data":{"values":[{}]},"mark":{"type":"rect","color":"white"},"encoding":{"x":{"datum":39.5},"x2":{"datum":40}}},
{"data":{"name":"igg"},"transform":[{"filter":{"field":"id","equal":"BZ015"}}],"mark":{"type":"circle","size":70,"opacity":1},"encoding":{"x":{"field":"day","type":"quantitative"},"y":{"field":"igg","type":"quantitative"},"color":{"field":"resp","type":"nominal"}}},
{"data":{"values":[{}]},"mark":{"type":"rule","strokeDash":[4,3],"strokeWidth":1.8,"color":"black"},"encoding":{"y":{"datum":8}}},
{"data":{"values":[{}]},"mark":{"type":"rule","strokeWidth":1.8,"color":"black"},"encoding":{"x":{"datum":-14},"x2":{"datum":39.5},"y":{"datum":0}}},
{"data":{"values":[{}]},"mark":{"type":"rule","strokeWidth":1.8,"color":"black"},"encoding":{"x":{"datum":40},"x2":{"datum":148},"y":{"datum":0}}}
]},
{"title":{"text":"BZ016-CR"},"width":218,"height":185,"layer":[
{"data":{"name":"igg"},"transform":[{"filter":{"field":"id","equal":"BZ016"}}],"mark":{"type":"line","strokeWidth":2},"encoding":{"x":{"field":"day","type":"quantitative","scale":{"domain":[-14,39.5,40,298],"range":[0,103,113,218],"nice":false,"zero":false},"axis":{"values":[-14,0,14,28,39.5,40,140,240],"tickCount":30,"title":"Timepoint (Day)","labelOverlap":false}},"y":{"field":"igg","type":"quantitative","scale":{"domain":[0,14],"nice":false},"axis":{"values":[0,4,8,12],"tickCount":30,"title":"IgG (g/L)","labelOverlap":false}},"color":{"field":"resp","type":"nominal","scale":{"domain":["PR","CR","PD","SD"],"range":["#22ee22","#ff1a1a","#1a1aff","#1a1aff"]},"legend":null}}},
{"data":{"values":[{}]},"mark":{"type":"rect","color":"white"},"encoding":{"x":{"datum":39.5},"x2":{"datum":40}}},
{"data":{"name":"igg"},"transform":[{"filter":{"field":"id","equal":"BZ016"}}],"mark":{"type":"circle","size":70,"opacity":1},"encoding":{"x":{"field":"day","type":"quantitative"},"y":{"field":"igg","type":"quantitative"},"color":{"field":"resp","type":"nominal"}}},
{"data":{"values":[{}]},"mark":{"type":"rule","strokeDash":[4,3],"strokeWidth":1.8,"color":"black"},"encoding":{"y":{"datum":8}}},
{"data":{"values":[{}]},"mark":{"type":"rule","strokeWidth":1.8,"color":"black"},"encoding":{"x":{"datum":-14},"x2":{"datum":39.5},"y":{"datum":0}}},
{"data":{"values":[{}]},"mark":{"type":"rule","strokeWidth":1.8,"color":"black"},"encoding":{"x":{"datum":40},"x2":{"datum":298},"y":{"datum":0}}}
]},
{"title":{"text":"BZ017-PD"},"width":218,"height":185,"layer":[
{"data":{"name":"igg"},"transform":[{"filter":{"field":"id","equal":"BZ017"}}],"mark":{"type":"line","strokeWidth":2},"encoding":{"x":{"field":"day","type":"quantitative","scale":{"domain":[-14,39.5,40,198],"range":[0,103,113,218],"nice":false,"zero":false},"axis":{"values":[-14,0,14,28,39.5,40,140],"tickCount":30,"title":"Timepoint (Day)","labelOverlap":false}},"y":{"field":"igg","type":"quantitative","scale":{"domain":[0,14],"nice":false},"axis":{"values":[0,4,8,12],"tickCount":30,"title":"IgG (g/L)","labelOverlap":false}},"color":{"field":"resp","type":"nominal","scale":{"domain":["PR","CR","PD","SD"],"range":["#22ee22","#ff1a1a","#1a1aff","#1a1aff"]},"legend":null}}},
{"data":{"values":[{}]},"mark":{"type":"rect","color":"white"},"encoding":{"x":{"datum":39.5},"x2":{"datum":40}}},
{"data":{"name":"igg"},"transform":[{"filter":{"field":"id","equal":"BZ017"}}],"mark":{"type":"circle","size":70,"opacity":1},"encoding":{"x":{"field":"day","type":"quantitative"},"y":{"field":"igg","type":"quantitative"},"color":{"field":"resp","type":"nominal"}}},
{"data":{"values":[{}]},"mark":{"type":"rule","strokeDash":[4,3],"strokeWidth":1.8,"color":"black"},"encoding":{"y":{"datum":8}}},
{"data":{"values":[{}]},"mark":{"type":"rule","strokeWidth":1.8,"color":"black"},"encoding":{"x":{"datum":-14},"x2":{"datum":39.5},"y":{"datum":0}}},
{"data":{"values":[{}]},"mark":{"type":"rule","strokeWidth":1.8,"color":"black"},"encoding":{"x":{"datum":40},"x2":{"datum":198},"y":{"datum":0}}}
]},
{"title":{"text":"BZ018-SD"},"width":218,"height":185,"layer":[
{"data":{"name":"igg"},"transform":[{"filter":{"field":"id","equal":"BZ018"}}],"mark":{"type":"line","strokeWidth":2},"encoding":{"x":{"field":"day","type":"quantitative","scale":{"domain":[-14,39.5,40,205],"range":[0,103,113,218],"nice":false,"zero":false},"axis":{"values":[-14,0,14,28,39.5,40,140],"tickCount":30,"title":"Timepoint (Day)","labelOverlap":false}},"y":{"field":"igg","type":"quantitative","scale":{"domain":[0,14],"nice":false},"axis":{"values":[0,4,8,12],"tickCount":30,"title":"IgG (g/L)","labelOverlap":false}},"color":{"field":"resp","type":"nominal","scale":{"domain":["PR","CR","PD","SD"],"range":["#22ee22","#ff1a1a","#1a1aff","#1a1aff"]},"legend":null}}},
{"data":{"values":[{}]},"mark":{"type":"rect","color":"white"},"encoding":{"x":{"datum":39.5},"x2":{"datum":40}}},
{"data":{"name":"igg"},"transform":[{"filter":{"field":"id","equal":"BZ018"}}],"mark":{"type":"circle","size":70,"opacity":1},"encoding":{"x":{"field":"day","type":"quantitative"},"y":{"field":"igg","type":"quantitative"},"color":{"field":"resp","type":"nominal"}}},
{"data":{"values":[{}]},"mark":{"type":"rule","strokeDash":[4,3],"strokeWidth":1.8,"color":"black"},"encoding":{"y":{"datum":8}}},
{"data":{"values":[{}]},"mark":{"type":"rule","strokeWidth":1.8,"color":"black"},"encoding":{"x":{"datum":-14},"x2":{"datum":39.5},"y":{"datum":0}}},
{"data":{"values":[{}]},"mark":{"type":"rule","strokeWidth":1.8,"color":"black"},"encoding":{"x":{"datum":40},"x2":{"datum":205},"y":{"datum":0}}}
]},
{"title":{"text":"BZ019-CR"},"width":218,"height":185,"layer":[
{"data":{"name":"igg"},"transform":[{"filter":{"field":"id","equal":"BZ019"}}],"mark":{"type":"line","strokeWidth":2},"encoding":{"x":{"field":"day","type":"quantitative","scale":{"domain":[-14,39.5,40,243],"range":[0,103,113,218],"nice":false,"zero":false},"axis":{"values":[-14,0,14,28,39.5,40,140,240],"tickCount":30,"title":"Timepoint (Day)","labelOverlap":false}},"y":{"field":"igg","type":"quantitative","scale":{"domain":[0,14],"nice":false},"axis":{"values":[0,4,8,12],"tickCount":30,"title":"IgG (g/L)","labelOverlap":false}},"color":{"field":"resp","type":"nominal","scale":{"domain":["PR","CR","PD","SD"],"range":["#22ee22","#ff1a1a","#1a1aff","#1a1aff"]},"legend":null}}},
{"data":{"values":[{}]},"mark":{"type":"rect","color":"white"},"encoding":{"x":{"datum":39.5},"x2":{"datum":40}}},
{"data":{"name":"igg"},"transform":[{"filter":{"field":"id","equal":"BZ019"}}],"mark":{"type":"circle","size":70,"opacity":1},"encoding":{"x":{"field":"day","type":"quantitative"},"y":{"field":"igg","type":"quantitative"},"color":{"field":"resp","type":"nominal"}}},
{"data":{"values":[{}]},"mark":{"type":"rule","strokeDash":[4,3],"strokeWidth":1.8,"color":"black"},"encoding":{"y":{"datum":8}}},
{"data":{"values":[{}]},"mark":{"type":"rule","strokeWidth":1.8,"color":"black"},"encoding":{"x":{"datum":-14},"x2":{"datum":39.5},"y":{"datum":0}}},
{"data":{"values":[{}]},"mark":{"type":"rule","strokeWidth":1.8,"color":"black"},"encoding":{"x":{"datum":40},"x2":{"datum":243},"y":{"datum":0}}}
]},
{"title":{"text":"BZ020-CR"},"width":218,"height":185,"layer":[
{"data":{"name":"igg"},"transform":[{"filter":{"field":"id","equal":"BZ020"}}],"mark":{"type":"line","strokeWidth":2},"encoding":{"x":{"field":"day","type":"quantitative","scale":{"domain":[-14,39.5,40,247],"range":[0,103,113,218],"nice":false,"zero":false},"axis":{"values":[-14,0,14,28,39.5,40,140,240],"tickCount":30,"title":"Timepoint (Day)","labelOverlap":false}},"y":{"field":"igg","type":"quantitative","scale":{"domain":[0,14],"nice":false},"axis":{"values":[0,4,8,12],"tickCount":30,"title":"IgG (g/L)","labelOverlap":false}},"color":{"field":"resp","type":"nominal","scale":{"domain":["PR","CR","PD","SD"],"range":["#22ee22","#ff1a1a","#1a1aff","#1a1aff"]},"legend":null}}},
{"data":{"values":[{}]},"mark":{"type":"rect","color":"white"},"encoding":{"x":{"datum":39.5},"x2":{"datum":40}}},
{"data":{"name":"igg"},"transform":[{"filter":{"field":"id","equal":"BZ020"}}],"mark":{"type":"circle","size":70,"opacity":1},"encoding":{"x":{"field":"day","type":"quantitative"},"y":{"field":"igg","type":"quantitative"},"color":{"field":"resp","type":"nominal"}}},
{"data":{"values":[{}]},"mark":{"type":"rule","strokeDash":[4,3],"strokeWidth":1.8,"color":"black"},"encoding":{"y":{"datum":8}}},
{"data":{"values":[{}]},"mark":{"type":"rule","strokeWidth":1.8,"color":"black"},"encoding":{"x":{"datum":-14},"x2":{"datum":39.5},"y":{"datum":0}}},
{"data":{"values":[{}]},"mark":{"type":"rule","strokeWidth":1.8,"color":"black"},"encoding":{"x":{"datum":40},"x2":{"datum":247},"y":{"datum":0}}}
]},
{"title":{"text":"BZ021-CR"},"width":218,"height":185,"layer":[
{"data":{"name":"igg"},"transform":[{"filter":{"field":"id","equal":"BZ021"}}],"mark":{"type":"line","strokeWidth":2},"encoding":{"x":{"field":"day","type":"quantitative","scale":{"domain":[-14,39.5,40,262],"range":[0,103,113,218],"nice":false,"zero":false},"axis":{"values":[-14,0,14,28,39.5,40,140,240],"tickCount":30,"title":"Timepoint (Day)","labelOverlap":false}},"y":{"field":"igg","type":"quantitative","scale":{"domain":[0,14],"nice":false},"axis":{"values":[0,4,8,12],"tickCount":30,"title":"IgG (g/L)","labelOverlap":false}},"color":{"field":"resp","type":"nominal","scale":{"domain":["PR","CR","PD","SD"],"range":["#22ee22","#ff1a1a","#1a1aff","#1a1aff"]},"legend":null}}},
{"data":{"values":[{}]},"mark":{"type":"rect","color":"white"},"encoding":{"x":{"datum":39.5},"x2":{"datum":40}}},
{"data":{"name":"igg"},"transform":[{"filter":{"field":"id","equal":"BZ021"}}],"mark":{"type":"circle","size":70,"opacity":1},"encoding":{"x":{"field":"day","type":"quantitative"},"y":{"field":"igg","type":"quantitative"},"color":{"field":"resp","type":"nominal"}}},
{"data":{"values":[{}]},"mark":{"type":"rule","strokeDash":[4,3],"strokeWidth":1.8,"color":"black"},"encoding":{"y":{"datum":8}}},
{"data":{"values":[{}]},"mark":{"type":"rule","strokeWidth":1.8,"color":"black"},"encoding":{"x":{"datum":-14},"x2":{"datum":39.5},"y":{"datum":0}}},
{"data":{"values":[{}]},"mark":{"type":"rule","strokeWidth":1.8,"color":"black"},"encoding":{"x":{"datum":40},"x2":{"datum":262},"y":{"datum":0}}}
]},
{"title":{"text":"BZ022-PD"},"width":218,"height":185,"layer":[
{"data":{"name":"igg"},"transform":[{"filter":{"field":"id","equal":"BZ022"}}],"mark":{"type":"line","strokeWidth":2},"encoding":{"x":{"field":"day","type":"quantitative","scale":{"domain":[-14,39.5,40,150],"range":[0,103,113,218],"nice":false,"zero":false},"axis":{"values":[-14,0,14,28,39.5,40],"tickCount":30,"title":"Timepoint (Day)","labelOverlap":false}},"y":{"field":"igg","type":"quantitative","scale":{"domain":[0,14],"nice":false},"axis":{"values":[0,4,8,12],"tickCount":30,"title":"IgG (g/L)","labelOverlap":false}},"color":{"field":"resp","type":"nominal","scale":{"domain":["PR","CR","PD","SD"],"range":["#22ee22","#ff1a1a","#1a1aff","#1a1aff"]},"legend":null}}},
{"data":{"values":[{}]},"mark":{"type":"rect","color":"white"},"encoding":{"x":{"datum":39.5},"x2":{"datum":40}}},
{"data":{"name":"igg"},"transform":[{"filter":{"field":"id","equal":"BZ022"}}],"mark":{"type":"circle","size":70,"opacity":1},"encoding":{"x":{"field":"day","type":"quantitative"},"y":{"field":"igg","type":"quantitative"},"color":{"field":"resp","type":"nominal"}}},
{"data":{"values":[{}]},"mark":{"type":"rule","strokeDash":[4,3],"strokeWidth":1.8,"color":"black"},"encoding":{"y":{"datum":8}}},
{"data":{"values":[{}]},"mark":{"type":"rule","strokeWidth":1.8,"color":"black"},"encoding":{"x":{"datum":-14},"x2":{"datum":39.5},"y":{"datum":0}}},
{"data":{"values":[{}]},"mark":{"type":"rule","strokeWidth":1.8,"color":"black"},"encoding":{"x":{"datum":40},"x2":{"datum":150},"y":{"datum":0}}}
]},
{"title":{"text":"BZ023-PD"},"width":218,"height":185,"layer":[
{"data":{"name":"igg"},"transform":[{"filter":{"field":"id","equal":"BZ023"}}],"mark":{"type":"line","strokeWidth":2},"encoding":{"x":{"field":"day","type":"quantitative","scale":{"domain":[-14,39.5,40,152],"range":[0,103,113,218],"nice":false,"zero":false},"axis":{"values":[-14,0,14,28,39.5,40,140],"tickCount":30,"title":"Timepoint (Day)","labelOverlap":false}},"y":{"field":"igg","type":"quantitative","scale":{"domain":[0,14],"nice":false},"axis":{"values":[0,4,8,12],"tickCount":30,"title":"IgG (g/L)","labelOverlap":false}},"color":{"field":"resp","type":"nominal","scale":{"domain":["PR","CR","PD","SD"],"range":["#22ee22","#ff1a1a","#1a1aff","#1a1aff"]},"legend":null}}},
{"data":{"values":[{}]},"mark":{"type":"rect","color":"white"},"encoding":{"x":{"datum":39.5},"x2":{"datum":40}}},
{"data":{"name":"igg"},"transform":[{"filter":{"field":"id","equal":"BZ023"}}],"mark":{"type":"circle","size":70,"opacity":1},"encoding":{"x":{"field":"day","type":"quantitative"},"y":{"field":"igg","type":"quantitative"},"color":{"field":"resp","type":"nominal"}}},
{"data":{"values":[{}]},"mark":{"type":"rule","strokeDash":[4,3],"strokeWidth":1.8,"color":"black"},"encoding":{"y":{"datum":8}}},
{"data":{"values":[{}]},"mark":{"type":"rule","strokeWidth":1.8,"color":"black"},"encoding":{"x":{"datum":-14},"x2":{"datum":39.5},"y":{"datum":0}}},
{"data":{"values":[{}]},"mark":{"type":"rule","strokeWidth":1.8,"color":"black"},"encoding":{"x":{"datum":40},"x2":{"datum":152},"y":{"datum":0}}}
]},
{"title":{"text":"BZ024PR"},"width":218,"height":185,"layer":[
{"data":{"name":"igg"},"transform":[{"filter":{"field":"id","equal":"BZ024"}}],"mark":{"type":"line","strokeWidth":2},"encoding":{"x":{"field":"day","type":"quantitative","scale":{"domain":[-14,39.5,40,150],"range":[0,103,113,218],"nice":false,"zero":false},"axis":{"values":[-14,0,14,28,39.5,40],"tickCount":30,"title":"Timepoint (Day)","labelOverlap":false}},"y":{"field":"igg","type":"quantitative","scale":{"domain":[0,14],"nice":false},"axis":{"values":[0,4,8,12],"tickCount":30,"title":"IgG (g/L)","labelOverlap":false}},"color":{"field":"resp","type":"nominal","scale":{"domain":["PR","CR","PD","SD"],"range":["#22ee22","#ff1a1a","#1a1aff","#1a1aff"]},"legend":null}}},
{"data":{"values":[{}]},"mark":{"type":"rect","color":"white"},"encoding":{"x":{"datum":39.5},"x2":{"datum":40}}},
{"data":{"name":"igg"},"transform":[{"filter":{"field":"id","equal":"BZ024"}}],"mark":{"type":"circle","size":70,"opacity":1},"encoding":{"x":{"field":"day","type":"quantitative"},"y":{"field":"igg","type":"quantitative"},"color":{"field":"resp","type":"nominal"}}},
{"data":{"values":[{}]},"mark":{"type":"rule","strokeDash":[4,3],"strokeWidth":1.8,"color":"black"},"encoding":{"y":{"datum":8}}},
{"data":{"values":[{}]},"mark":{"type":"rule","strokeWidth":1.8,"color":"black"},"encoding":{"x":{"datum":-14},"x2":{"datum":39.5},"y":{"datum":0}}},
{"data":{"values":[{}]},"mark":{"type":"rule","strokeWidth":1.8,"color":"black"},"encoding":{"x":{"datum":40},"x2":{"datum":150},"y":{"datum":0}}}
]},
{"title":{"text":"BZ025-CR"},"width":218,"height":185,"layer":[
{"data":{"name":"igg"},"transform":[{"filter":{"field":"id","equal":"BZ025"}}],"mark":{"type":"line","strokeWidth":2},"encoding":{"x":{"field":"day","type":"quantitative","scale":{"domain":[-14,39.5,40,153],"range":[0,103,113,218],"nice":false,"zero":false},"axis":{"values":[-14,0,14,28,39.5,40,140],"tickCount":30,"title":"Timepoint (Day)","labelOverlap":false}},"y":{"field":"igg","type":"quantitative","scale":{"domain":[0,14],"nice":false},"axis":{"values":[0,4,8,12],"tickCount":30,"title":"IgG (g/L)","labelOverlap":false}},"color":{"field":"resp","type":"nominal","scale":{"domain":["PR","CR","PD","SD"],"range":["#22ee22","#ff1a1a","#1a1aff","#1a1aff"]},"legend":null}}},
{"data":{"values":[{}]},"mark":{"type":"rect","color":"white"},"encoding":{"x":{"datum":39.5},"x2":{"datum":40}}},
{"data":{"name":"igg"},"transform":[{"filter":{"field":"id","equal":"BZ025"}}],"mark":{"type":"circle","size":70,"opacity":1},"encoding":{"x":{"field":"day","type":"quantitative"},"y":{"field":"igg","type":"quantitative"},"color":{"field":"resp","type":"nominal"}}},
{"data":{"values":[{}]},"mark":{"type":"rule","strokeDash":[4,3],"strokeWidth":1.8,"color":"black"},"encoding":{"y":{"datum":8}}},
{"data":{"values":[{}]},"mark":{"type":"rule","strokeWidth":1.8,"color":"black"},"encoding":{"x":{"datum":-14},"x2":{"datum":39.5},"y":{"datum":0}}},
{"data":{"values":[{}]},"mark":{"type":"rule","strokeWidth":1.8,"color":"black"},"encoding":{"x":{"datum":40},"x2":{"datum":153},"y":{"datum":0}}}
]},
{"title":{"text":"BZ026-PR"},"width":218,"height":185,"layer":[
{"data":{"name":"igg"},"transform":[{"filter":{"field":"id","equal":"BZ026"}}],"mark":{"type":"line","strokeWidth":2},"encoding":{"x":{"field":"day","type":"quantitative","scale":{"domain":[-14,39.5,40,150],"range":[0,103,113,218],"nice":false,"zero":false},"axis":{"values":[-14,0,14,28,39.5,40],"tickCount":30,"title":"Timepoint (Day)","labelOverlap":false}},"y":{"field":"igg","type":"quantitative","scale":{"domain":[0,24],"nice":false},"axis":{"values":[0,4,8,12,16,20,24],"tickCount":30,"title":"IgG (g/L)","labelOverlap":false}},"color":{"field":"resp","type":"nominal","scale":{"domain":["PR","CR","PD","SD"],"range":["#22ee22","#ff1a1a","#1a1aff","#1a1aff"]},"legend":null}}},
{"data":{"values":[{}]},"mark":{"type":"rect","color":"white"},"encoding":{"x":{"datum":39.5},"x2":{"datum":40}}},
{"data":{"name":"igg"},"transform":[{"filter":{"field":"id","equal":"BZ026"}}],"mark":{"type":"circle","size":70,"opacity":1},"encoding":{"x":{"field":"day","type":"quantitative"},"y":{"field":"igg","type":"quantitative"},"color":{"field":"resp","type":"nominal"}}},
{"data":{"values":[{}]},"mark":{"type":"rule","strokeDash":[4,3],"strokeWidth":1.8,"color":"black"},"encoding":{"y":{"datum":8}}},
{"data":{"values":[{}]},"mark":{"type":"rule","strokeWidth":1.8,"color":"black"},"encoding":{"x":{"datum":-14},"x2":{"datum":39.5},"y":{"datum":0}}},
{"data":{"values":[{}]},"mark":{"type":"rule","strokeWidth":1.8,"color":"black"},"encoding":{"x":{"datum":40},"x2":{"datum":150},"y":{"datum":0}}}
]}
],
"config":{
"view":{"stroke":null},
"font":"Liberation Sans",
"axis":{"grid":false,"domainColor":"black","tickColor":"black","labelColor":"black","titleColor":"black","domainWidth":1.8,"tickWidth":1.6,"labelFont":"Liberation Sans","labelFontSize":11,"titleFontWeight":"normal","labelOverlap":false,"labelFlush":false},
"axisX":{"domain":false,"tickSize":5,"labelPadding":2,"titleFont":"Liberation Sans","titleFontSize":11,"titlePadding":12,"titleX":96,"labelExpr":"datum.value == 39.5 ? '' : '' + datum.value"},
"axisY":{"tickSize":4,"labelPadding":2,"titleFont":"Liberation Sans","titleFontSize":16,"titlePadding":5,"labelExpr":"'' + datum.value"},
"title":{"fontSize":11,"fontWeight":"normal","font":"Liberation Sans","offset":-11,"anchor":"middle","dx":-9,"color":"black"}
}
}
